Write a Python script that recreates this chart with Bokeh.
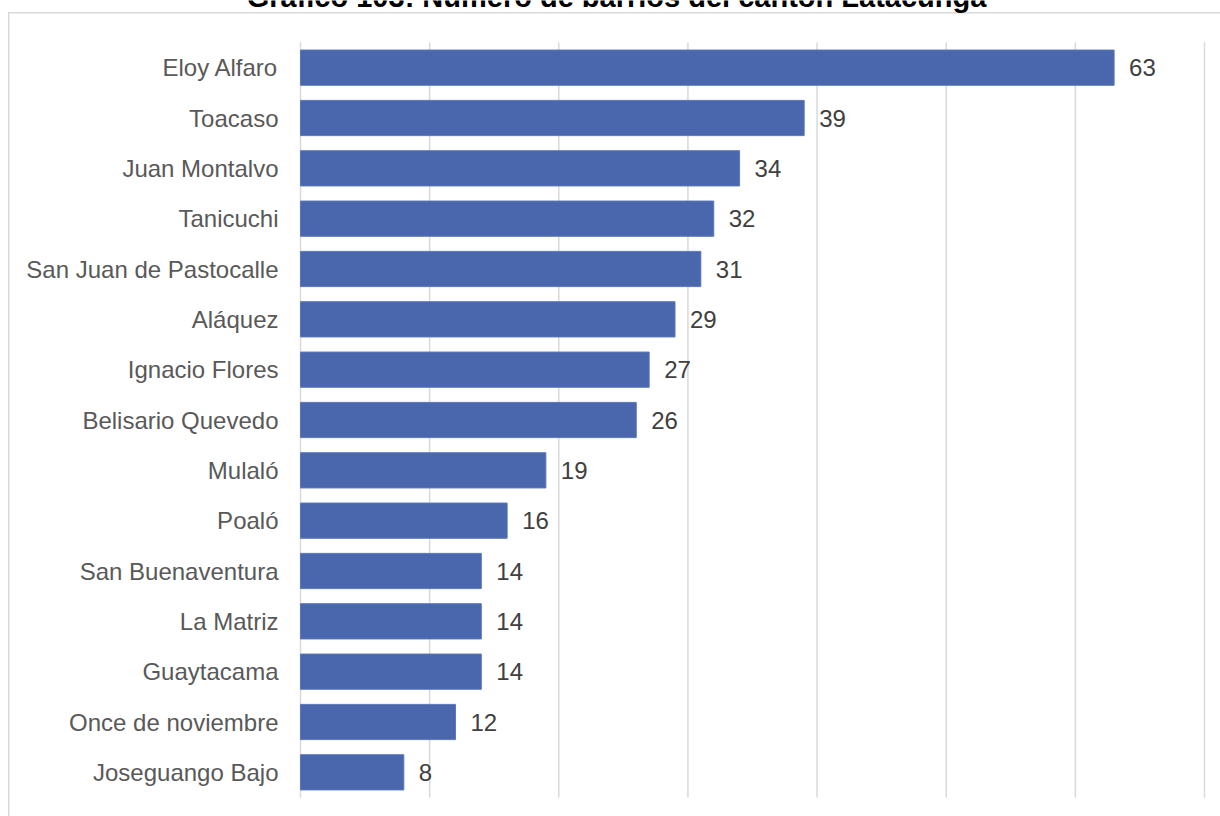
from bokeh.plotting import figure
from bokeh.models import Range1d, ColumnDataSource, Label, InlineStyleSheet
from bokeh.core.properties import value
from bokeh.embed import file_html
from bokeh.resources import INLINE

title_text = "Gráfico 103: Número de barrios del cantón Latacunga"
parroquias = ["Eloy Alfaro", "Toacaso", "Juan Montalvo", "Tanicuchi", "San Juan de Pastocalle",
              "Aláquez", "Ignacio Flores", "Belisario Quevedo", "Mulaló", "Poaló",
              "San Buenaventura", "La Matriz", "Guaytacama", "Once de noviembre", "Joseguango Bajo"]
barrios = [63, 39, 34, 32, 31, 29, 27, 26, 19, 16, 14, 14, 14, 12, 8]
grid_ticks = [0, 10, 20, 30, 40, 50, 60, 70]

FONT = "Liberation Sans"
W, H = 1220, 816
# plotting area in pixels (layout only)
PX_LEFT, PX_RIGHT, PX_TOP, PX_BOTTOM = 300, 1204, 42, 797

n = len(parroquias)
pos = list(range(n))
xmax = grid_ticks[-1]
ux = (PX_RIGHT - PX_LEFT) / xmax
uy = (PX_BOTTOM - PX_TOP) / n
x_range = Range1d(-PX_LEFT / ux, xmax + (W - PX_RIGHT) / ux)
y_range = Range1d(start=-0.5 + (H - PX_TOP) / uy, end=-0.5 - PX_TOP / uy)

src = ColumnDataSource(dict(pos=pos, cat=parroquias, val=barrios,
                            lbl=[str(v) for v in barrios], zero=[0] * n))
grid_src = ColumnDataSource(dict(x=grid_ticks, y0=[-0.5] * len(grid_ticks),
                                 y1=[n - 0.5] * len(grid_ticks)))

p = figure(width=W, height=H, output_backend="svg", toolbar_location=None,
           x_range=x_range, y_range=y_range, min_border=0)
p.border_fill_color = None
p.background_fill_color = None
p.outline_line_color = None
p.xaxis.visible = False
p.yaxis.visible = False
p.xgrid.visible = False
p.ygrid.visible = False
p.stylesheets = [InlineStyleSheet(css=(
    ":host { background: "
    "linear-gradient(#D9D9D9,#D9D9D9) 8px 12px / 1.5px 100% no-repeat, "
    "linear-gradient(#D9D9D9,#D9D9D9) 8px 12px / 100% 1.5px no-repeat, white; }"))]

p.segment(x0="x", x1="x", y0="y0", y1="y1", source=grid_src,
          line_color="#D9D9D9", line_width=1.5)

p.hbar(y="pos", right="val", left=0, height=0.7, source=src,
       fill_color="#4A66AC", line_color="#5B77BA", line_width=1)
p.text(x="val", y="pos", text="lbl", source=src, x_offset=15,
       text_font=value(FONT), text_font_size="24px", text_color="#404040",
       text_baseline="middle", text_align="left")
p.text(x="zero", y="pos", text="cat", source=src, x_offset=-22,
       text_font=value(FONT), text_font_size="24px", text_color="#595959",
       text_baseline="middle", text_align="right")

title = Label(x=616, y=H + 4, x_units="screen", y_units="screen", text=title_text,
              text_font=FONT, text_font_size="29px", text_font_style="bold",
              text_color="black", text_align="center", text_baseline="alphabetic")
p.add_layout(title)

open("out.html", "w").write(file_html(p, INLINE))
